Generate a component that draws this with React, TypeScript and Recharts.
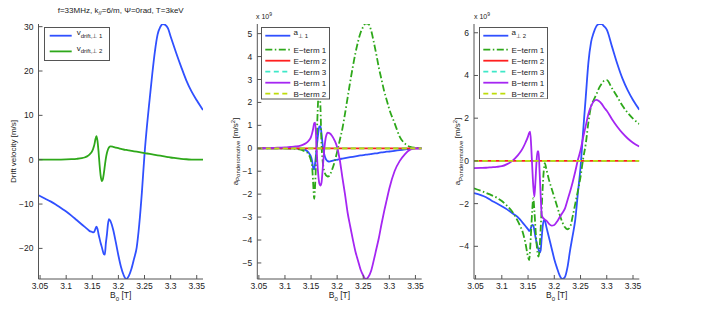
import React from "react";
import { LineChart, Line, XAxis, YAxis, Legend } from "recharts";

// magnetic field grid [T], denser round the resonances
const B0 = [
  3.047, 3.06, 3.07, 3.08, 3.09, 3.1, 3.11, 3.12, 3.13, 3.135,
  3.14, 3.145, 3.15, 3.152, 3.154, 3.156, 3.158, 3.16, 3.162, 3.164,
  3.166, 3.168, 3.17, 3.172, 3.174, 3.176, 3.178, 3.18, 3.182, 3.185,
  3.19, 3.195, 3.2, 3.205, 3.21, 3.215, 3.22, 3.225, 3.23, 3.235,
  3.24, 3.245, 3.25, 3.255, 3.26, 3.265, 3.27, 3.275, 3.28, 3.285,
  3.29, 3.295, 3.3, 3.31, 3.32, 3.33, 3.34, 3.35, 3.362,
];

// drift velocity [m/s]
const vDrift1 = [
  -8.0, -8.8, -9.4, -10.1, -10.9, -11.7, -12.6, -13.6, -14.6, -15.1,
  -15.6, -16.1, -16.3, -16.4, -16.2, -15.6, -15.1, -15.6, -16.8, -17.8,
  -18.8, -19.6, -20.5, -21.3, -21.4, -18.8, -16.9, -14.5, -13.4, -13.9,
  -15.8, -18.6, -21.6, -24.2, -26.0, -26.9, -26.2, -24.6, -22.3, -19.8,
  -14.5, -7.3, 1.2, 8.0, 13.8, 19.5, 24.5, 28.2, 29.9, 30.6,
  30.4, 29.6, 27.8, 24.3, 21.0, 17.9, 15.4, 13.4, 11.2,
];
const vDrift2 = [
  0, 0, 0, 0.02, 0.04, 0.07, 0.12, 0.2, 0.35, 0.5,
  0.75, 1.2, 2.0, 2.6, 3.4, 4.6, 5.3, 4.2, 1.8, -1.2,
  -3.6, -4.8, -4.5, -3.2, -1.4, 0.3, 1.5, 2.3, 2.8, 3.0,
  2.9, 2.75, 2.6, 2.45, 2.3, 2.2, 2.1, 2.0, 1.9, 1.8,
  1.7, 1.6, 1.5, 1.4, 1.3, 1.2, 1.1, 1.0, 0.9, 0.8,
  0.7, 0.6, 0.5, 0.35, 0.2, 0.1, 0.04, 0.01, 0,
];

// ponderomotive acceleration, perp 1 [1e9 m/s^2]
const aPerp1 = [
  0, 0, 0, 0, 0, 0, 0, 0, -0.02, -0.04,
  -0.08, -0.18, -0.38, -0.55, -0.85, -0.92, -0.6, -0.15, 0.3, 0.7,
  0.95, 0.97, 0.65, 0.2, -0.12, -0.32, -0.45, -0.52, -0.56, -0.58,
  -0.55, -0.52, -0.5, -0.47, -0.45, -0.43, -0.41, -0.39, -0.37, -0.35,
  -0.33, -0.31, -0.3, -0.28, -0.27, -0.25, -0.23, -0.22, -0.2, -0.18,
  -0.17, -0.15, -0.14, -0.11, -0.08, -0.05, -0.02, 0, 0,
];
const ePerp1Term1 = [
  0, 0, 0, 0, 0, 0, -0.01, -0.03, -0.06, -0.1,
  -0.15, -0.25, -0.55, -0.8, -1.5, -2.2, -1.5, -0.3, 1.2, 2.3,
  2.7, 1.8, 0.2, -0.5, -0.85, -1.05, -1.15, -1.2, -1.23, -1.2,
  -0.95, -0.6, -0.15, 0.35, 0.85, 1.5, 2.2, 2.9, 3.55, 4.15,
  4.65, 5.05, 5.3, 5.45, 5.42, 5.15, 4.65, 4.1, 3.5, 3.0,
  2.5, 2.1, 1.7, 1.1, 0.5, 0.2, 0.06, 0.02, 0,
];
const bPerp1Term1 = [
  0, 0.01, 0.01, 0.02, 0.03, 0.04, 0.06, 0.08, 0.12, 0.16,
  0.22, 0.32, 0.5, 0.65, 0.85, 1.1, 1.12, 0.3, -0.6, -1.2,
  -1.55, -1.63, -1.5, -1.0, -0.4, 0.1, 0.45, 0.62, 0.68, 0.66,
  0.55, 0.35, 0.05, -0.5, -1.27, -2.0, -2.8, -3.4, -3.97, -4.5,
  -4.9, -5.3, -5.55, -5.7, -5.6, -5.35, -4.9, -4.4, -3.9, -3.3,
  -2.75, -2.25, -1.75, -1.0, -0.55, -0.25, -0.06, 0, 0,
];

// ponderomotive acceleration, perp 2 [1e9 m/s^2]
const aPerp2 = [
  -1.51, -1.6, -1.7, -1.85, -1.98, -2.12, -2.27, -2.45, -2.62, -2.75,
  -2.9, -3.05, -3.2, -3.28, -3.25, -3.1, -3.0, -3.02, -3.25, -3.55,
  -3.8, -4.0, -4.15, -4.3, -4.2, -3.6, -3.05, -2.78, -2.8, -3.1,
  -3.6, -4.1, -4.6, -5.0, -5.35, -5.53, -5.45, -5.0, -4.2, -3.5,
  -2.75, -1.5, -0.3, 1.4, 3.0, 4.6, 5.55, 6.0, 6.3, 6.4,
  6.41, 6.3, 6.15, 5.35, 4.55, 3.85, 3.3, 2.85, 2.4,
];
const ePerp2Term1 = [
  -1.28, -1.4, -1.5, -1.6, -1.72, -1.88, -2.1, -2.38, -2.8, -3.05,
  -3.35, -3.85, -4.5, -4.64, -4.1, -3.2, -2.3, -1.75, -2.3, -3.1,
  -3.8, -4.3, -4.48, -4.1, -3.2, -2.2, -1.2, -0.45, -0.1, -0.4,
  -0.9, -1.3, -1.7, -2.1, -2.5, -2.85, -3.1, -3.2, -3.1, -2.6,
  -2.0, -1.4, -0.75, 0.1, 0.8, 1.8, 2.55, 2.85, 3.1, 3.4,
  3.6, 3.75, 3.78, 3.4, 3.0, 2.58, 2.25, 1.98, 1.73,
];
const bPerp2Term1 = [
  -0.34, -0.33, -0.32, -0.3, -0.28, -0.25, -0.15, 0.0, 0.25, 0.4,
  0.6, 0.85, 1.15, 1.3, 1.37, 0.7, -0.3, -1.2, -1.67, -1.0,
  -0.1, 0.45, 0.45, -0.5, -1.6, -2.5, -2.65, -2.7, -2.75, -2.8,
  -2.95, -3.03, -3.0, -2.85, -2.65, -2.45, -2.25, -1.85, -1.45, -1.0,
  -0.5, 0.05, 0.5, 1.1, 1.65, 2.2, 2.55, 2.78, 2.86, 2.8,
  2.68, 2.5, 2.35, 1.95, 1.6, 1.3, 1.05, 0.85, 0.67,
];

// E-term 2, E-term 3 and B-term 2 sit on zero in both panels
const flatZero = [
  0, 0, 0, 0, 0, 0, 0, 0, 0, 0,
  0, 0, 0, 0, 0, 0, 0, 0, 0, 0,
  0, 0, 0, 0, 0, 0, 0, 0, 0, 0,
  0, 0, 0, 0, 0, 0, 0, 0, 0, 0,
  0, 0, 0, 0, 0, 0, 0, 0, 0, 0,
  0, 0, 0, 0, 0, 0, 0, 0, 0,
];

const xTicks = [3.05, 3.1, 3.15, 3.2, 3.25, 3.3, 3.35];
const driftTicks = [-20, -10, 0, 10, 20, 30];
const perp1Ticks = [-5, -4, -3, -2, -1, 0, 1, 2, 3, 4, 5];
const perp2Ticks = [-4, -2, 0, 2, 4, 6];

const X_DOMAIN: [number, number] = [3.047, 3.362];

const FONT = '"Liberation Sans", Arial, Helvetica, sans-serif';
const FRAME = "#555";
const INK = "#222";
const BLUE = "#3050ff";
const GREEN = "#2ea81a";
const RED = "#ff1f1f";
const CYAN = "#3ee8c8";
const PURPLE = "#a526f2";
const LIME = "#bedc0a";
const DASHDOT = "7 2.5 1.5 2.5";
const DASH = "5 3.5";

const tickStyle = { fontSize: 8.5, fill: INK, fontFamily: FONT };
const fmtTick = (v: number) => (v < 0 ? `\u2212${-v}` : `${v}`);

const driftRows = B0.map((b, i) => ({ b, v1: vDrift1[i], v2: vDrift2[i] }));
const perp1Rows = B0.map((b, i) => ({
  b, a: aPerp1[i], e1: ePerp1Term1[i], e2: flatZero[i], e3: flatZero[i], b1: bPerp1Term1[i], b2: flatZero[i],
}));
const perp2Rows = B0.map((b, i) => ({
  b, a: aPerp2[i], e1: ePerp2Term1[i], e2: flatZero[i], e3: flatZero[i], b1: bPerp2Term1[i], b2: flatZero[i],
}));

type Entry = { label: React.ReactNode; color: string; dash?: string; y: number; sub?: boolean };

function LegendBox({ w, h, x0, x1, tx, entries }: { w: number; h: number; x0: number; x1: number; tx: number; entries: Entry[] }) {
  return (
    <svg width={w} height={h} style={{ display: "block" }}>
      <rect x={0.5} y={0.5} width={w - 1} height={h - 1} fill="#fff" stroke={FRAME} />
      {entries.map((e, i) => (
        <g key={i}>
          <line x1={x0} x2={x1} y1={e.y} y2={e.y} stroke={e.color} strokeWidth={1.8} strokeDasharray={e.dash} />
          <text x={tx} y={e.sub ? e.y - 0.5 : e.y + 3} fontSize={8} fill={INK} fontFamily={FONT}>
            {e.label}
          </text>
        </g>
      ))}
    </svg>
  );
}

const xLabel = ({ viewBox }: any) => (
  <text x={viewBox.x + viewBox.width / 2} y={viewBox.y + 19} textAnchor="middle" fontSize={8.5} fill={INK} fontFamily={FONT}>
    B<tspan fontSize={6} dy={2.5}>0</tspan>
    <tspan dy={-2.5}> [T]</tspan>
  </text>
);

// the y label slot also carries the text sitting above each axes box
const driftLabel = ({ viewBox }: any) => {
  const x = 15.5;
  const cy = viewBox.y + viewBox.height / 2;
  return (
    <g>
      <text x={x} y={cy} transform={`rotate(-90 ${x} ${cy})`} textAnchor="middle" fontSize={8} fill={INK} fontFamily={FONT}>
        Drift velocity [m/s]
      </text>
      <text x={120.7} y={13} textAnchor="middle" fontSize={8} fill={INK} fontFamily={FONT}>
        f=33MHz, k<tspan fontSize={6} dy={2}>//</tspan>
        <tspan dy={-2}>=6/m, Ψ=0rad, T=3keV</tspan>
      </text>
    </g>
  );
};

const accelLabel = (x: number, expX: number) => ({ viewBox }: any) => {
  const cy = viewBox.y + viewBox.height / 2;
  return (
    <g>
      <text x={x} y={cy} transform={`rotate(-90 ${x} ${cy})`} textAnchor="middle" fontSize={8} fill={INK} fontFamily={FONT}>
        a<tspan fontSize={6} dy={2.5}>Ponderomotive</tspan>
        <tspan dy={-2.5}> [m/s</tspan>
        <tspan fontSize={6} dy={-3}>2</tspan>
        <tspan dy={3}>]</tspan>
      </text>
      <text x={expX} y={18.5} fontSize={7} fill={INK} fontFamily={FONT}>
        x 10<tspan fontSize={5} dy={-3}>9</tspan>
      </text>
    </g>
  );
};

function DriftPanel() {
  return (
    <LineChart width={230} height={314} data={driftRows} margin={{ top: 24, right: 27, bottom: 15, left: 8.5 }}>
      <XAxis dataKey="b" type="number" domain={X_DOMAIN} ticks={xTicks} allowDataOverflow height={20}
        stroke={FRAME} tick={tickStyle} tickSize={-4} tickMargin={8} label={{ content: xLabel }} />
      <XAxis xAxisId="top" orientation="top" dataKey="b" type="number" domain={X_DOMAIN} ticks={xTicks}
        allowDataOverflow height={0} stroke={FRAME} tick={false} tickSize={-4} />
      <YAxis type="number" domain={[-26.9, 30.6]} ticks={driftTicks} allowDataOverflow width={30}
        stroke={FRAME} tick={tickStyle} tickSize={-4} tickMargin={9} tickFormatter={fmtTick} label={{ content: driftLabel }} />
      <YAxis yAxisId="right" orientation="right" type="number" domain={[-26.9, 30.6]} ticks={driftTicks}
        allowDataOverflow width={0} stroke={FRAME} tick={false} tickSize={-4} />
      <Line dataKey="v1" type="monotone" stroke={BLUE} strokeWidth={1.8} dot={false} isAnimationActive={false} />
      <Line dataKey="v2" type="monotone" stroke={GREEN} strokeWidth={1.8} dot={false} isAnimationActive={false} />
      <Legend layout="vertical" align="center" verticalAlign="middle"
        wrapperStyle={{ left: 44.3, top: 27.3, width: 66, height: 34 }}
        content={() => (
          <LegendBox w={66} h={34} x0={5.7} x1={27.7} tx={32.7} entries={[
            { label: <>v<tspan fontSize={6} dy={2.5}>drift,⊥ 1</tspan></>, color: BLUE, y: 8.7, sub: true },
            { label: <>v<tspan fontSize={6} dy={2.5}>drift,⊥ 2</tspan></>, color: GREEN, y: 24.4, sub: true },
          ]} />
        )} />
    </LineChart>
  );
}

function AccelPanel({ rows, yDomain, yTicks, width, margin, yLabelX, expX, legendLeft, legendTop, sub }: any) {
  const entries: Entry[] = [
    { label: <>a<tspan fontSize={6} dy={2.5}>⊥ {sub}</tspan></>, color: BLUE, y: 8.7, sub: true },
    { label: "E\u2212term 1", color: GREEN, dash: DASHDOT, y: 22.7 },
    { label: "E\u2212term 2", color: RED, y: 33.7 },
    { label: "E\u2212term 3", color: CYAN, dash: DASH, y: 44.7 },
    { label: "B\u2212term 1", color: PURPLE, y: 55.7 },
    { label: "B\u2212term 2", color: LIME, dash: DASH, y: 66.7 },
  ];
  return (
    <LineChart width={width} height={314} data={rows} margin={margin}>
      <XAxis dataKey="b" type="number" domain={X_DOMAIN} ticks={xTicks} allowDataOverflow height={20}
        stroke={FRAME} tick={tickStyle} tickSize={-4} tickMargin={8} label={{ content: xLabel }} />
      <XAxis xAxisId="top" orientation="top" dataKey="b" type="number" domain={X_DOMAIN} ticks={xTicks}
        allowDataOverflow height={0} stroke={FRAME} tick={false} tickSize={-4} />
      <YAxis type="number" domain={yDomain} ticks={yTicks} allowDataOverflow width={22}
        stroke={FRAME} tick={tickStyle} tickSize={-4} tickMargin={9} tickFormatter={fmtTick}
        label={{ content: accelLabel(yLabelX, expX) }} />
      <YAxis yAxisId="right" orientation="right" type="number" domain={yDomain} ticks={yTicks}
        allowDataOverflow width={0} stroke={FRAME} tick={false} tickSize={-4} />
      <Line dataKey="a" type="monotone" stroke={BLUE} strokeWidth={1.8} dot={false} isAnimationActive={false} />
      <Line dataKey="e1" type="monotone" stroke={GREEN} strokeWidth={1.8} strokeDasharray={DASHDOT} dot={false} isAnimationActive={false} />
      <Line dataKey="e2" type="monotone" stroke={RED} strokeWidth={1.8} dot={false} isAnimationActive={false} />
      <Line dataKey="e3" type="monotone" stroke={CYAN} strokeWidth={1.8} strokeDasharray={DASH} dot={false} isAnimationActive={false} />
      <Line dataKey="b1" type="monotone" stroke={PURPLE} strokeWidth={1.8} dot={false} isAnimationActive={false} />
      <Line dataKey="b2" type="monotone" stroke={LIME} strokeWidth={1.8} strokeDasharray={DASH} dot={false} isAnimationActive={false} />
      <Legend layout="vertical" align="center" verticalAlign="middle"
        wrapperStyle={{ left: legendLeft, top: legendTop, width: 69, height: 72.5 }}
        content={() => <LegendBox w={69} h={72.5} x0={4.3} x1={29.3} tx={32.6} entries={entries} />} />
    </LineChart>
  );
}

export default function App() {
  return (
    <div style={{ position: "absolute", left: 0, top: 0, width: 713, height: 314, background: "#fff", overflow: "hidden" }}>
      <div style={{ position: "absolute", left: 0, top: 0 }}>
        <DriftPanel />
      </div>
      <div style={{ position: "absolute", left: 230, top: 0 }}>
        <AccelPanel rows={perp1Rows} yDomain={[-5.7, 5.42]} yTicks={perp1Ticks} width={230}
          margin={{ top: 24, right: 38.3, bottom: 15, left: 5.3 }} yLabelX={7.5} expX={26}
          legendLeft={30.7} legendTop={27.3} sub={1} />
      </div>
      <div style={{ position: "absolute", left: 440, top: 0 }}>
        <AccelPanel rows={perp2Rows} yDomain={[-5.53, 6.41]} yTicks={perp2Ticks} width={273}
          margin={{ top: 24, right: 73.7, bottom: 15, left: 12 }} yLabelX={20} expX={34}
          legendLeft={39} legendTop={26.7} sub={2} />
      </div>
    </div>
  );
}
